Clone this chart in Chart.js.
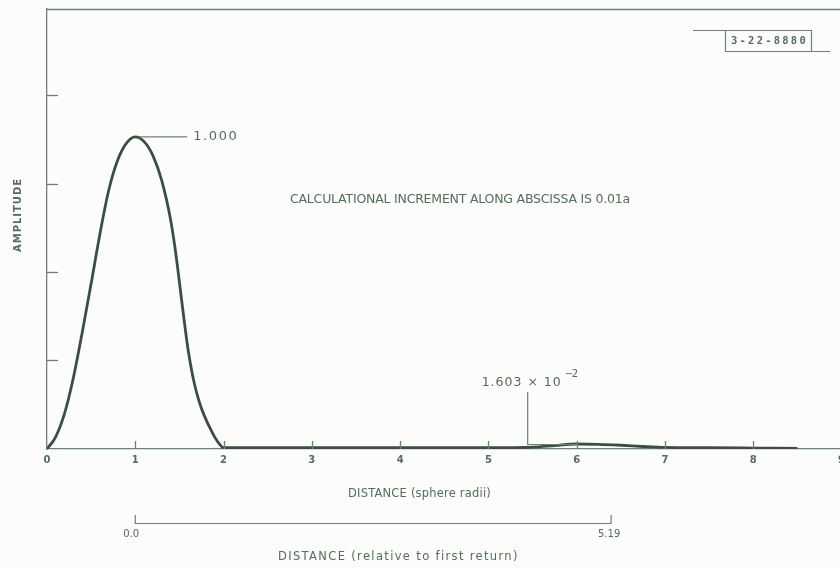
<!DOCTYPE html>
<html><head><meta charset="utf-8">
<script src="https://cdn.jsdelivr.net/npm/chart.js@4/dist/chart.umd.min.js"></script>
<style>
html,body{margin:0;padding:0;background:#fcfdfb;overflow:hidden;}
#wrap{position:relative;width:850px;height:568px;overflow:hidden;}
canvas{display:block;}
</style></head><body>
<div id="wrap"><canvas id="c" width="850" height="568"></canvas></div>
<script>
// ---- data ----
const distance = [0,0.1,0.2,0.3,0.4,0.5,0.6,0.7,0.8,0.9,1.0,1.1,1.2,1.3,1.4,1.45,1.5,1.55,1.6,1.65,1.7,1.75,1.8,1.85,1.9,1.95,2.0,
                  2.5,3.0,3.5,4.0,4.5,5.0,5.5,5.75,6.0,6.25,6.5,6.75,7.0,7.5,8.0,8.5];
const amplitude = [0,0.04,0.115,0.23,0.375,0.53,0.69,0.83,0.925,0.98,1.0,0.985,0.94,0.86,0.735,0.645,0.535,0.42,0.315,0.235,0.175,0.13,0.095,0.065,0.038,0.017,0.004,
                   0.004,0.004,0.004,0.004,0.004,0.004,0.006,0.011,0.016,0.015,0.012,0.008,0.005,0.004,0.003,0.002];
const xTickValues = [0,1,2,3,4,5,6,7,8,9];
const yTickMarks = [0.285,0.567,0.849,1.135];
const firstPeak = {x:1.0, y:1.0, label:'1.000'};
const secondPeak = {x:6.0, y:0.016, label:'1.603 × 10', exponent:'−2'};
const relativeAxisAt = [1.0, 6.39];
const relativeAxisLabels = ['0.0','5.19'];
const figureId = '3-22-8880';
const noteText = 'CALCULATIONAL INCREMENT ALONG ABSCISSA IS 0.01a';
const xTitle = 'DISTANCE (sphere radii)';
const xTitle2 = 'DISTANCE (relative to first return)';
const yTitle = 'AMPLITUDE';

const AX = '#6d8076', TXT = '#566b5f', CURVE = '#3c4e44';
const FAM = '"DejaVu Sans", sans-serif';

function fitText(ctx, text, left, cy, width){
  ctx.letterSpacing = '0px';
  const m = ctx.measureText(text).width;
  const ls = (width - m) / text.length;
  ctx.letterSpacing = ls.toFixed(2) + 'px';
  ctx.textAlign = 'left'; ctx.textBaseline = 'middle';
  ctx.fillText(text, left, cy);
  ctx.letterSpacing = '0px';
}
function line(ctx, pts, w, col){
  ctx.beginPath(); ctx.moveTo(pts[0][0], pts[0][1]);
  for (let i=1;i<pts.length;i++) ctx.lineTo(pts[i][0], pts[i][1]);
  ctx.lineWidth = w; ctx.strokeStyle = col; ctx.stroke();
}

const deco = {
  id:'deco',
  beforeDraw(chart){
    const ctx = chart.ctx; ctx.save();
    ctx.fillStyle = '#fcfdfb'; ctx.fillRect(0,0,chart.width,chart.height);
    ctx.restore();
  },
  afterDraw(chart){
    const ctx = chart.ctx, ca = chart.chartArea, xs = chart.scales.x, ys = chart.scales.y;
    ctx.save();
    line(ctx, [[ca.left, ca.top+0.5],[ca.right, ca.top+0.5]], 1.3, AX);
    ys.ticks.forEach(t => { const py = Math.round(ys.getPixelForValue(t.value))+0.5;
      line(ctx, [[ca.left, py],[ca.left+11, py]], 1.3, AX); });
    xs.ticks.forEach(t => { if (t.value <= 0 || t.value >= 9) return;
      const px = Math.round(xs.getPixelForValue(t.value))+0.5;
      line(ctx, [[px, ca.bottom],[px, ca.bottom-8]], 1.3, AX); });
    // first peak label
    const p1x = xs.getPixelForValue(firstPeak.x), p1y = ys.getPixelForValue(firstPeak.y);
    line(ctx, [[p1x+4, p1y],[p1x+52, p1y]], 1.2, AX);
    ctx.fillStyle = TXT; ctx.font = '13px ' + FAM;
    fitText(ctx, firstPeak.label, p1x+58, p1y, 45);
    // second peak label
    const p2x = xs.getPixelForValue(secondPeak.x), p2y = ys.getPixelForValue(secondPeak.y);
    const lx = p2x - 49;
    line(ctx, [[lx, p2y-52],[lx, p2y+0.5],[p2x, p2y+0.5]], 1.2, AX);
    ctx.font = '12.5px ' + FAM;
    fitText(ctx, secondPeak.label, lx-46, p2y-61, 80);
    ctx.font = '10px ' + FAM;
    fitText(ctx, secondPeak.exponent, lx+37, p2y-70, 12);
    // note
    ctx.font = '12.5px ' + FAM;
    fitText(ctx, noteText, 290, 200, 340);
    // figure id box
    line(ctx, [[693, 30.5],[812, 30.5]], 1.2, AX);
    line(ctx, [[725.5, 30.5],[725.5, 52]], 1.2, AX);
    line(ctx, [[811.5, 30.5],[811.5, 51.5],[830, 51.5]], 1.2, AX);
    line(ctx, [[725.5, 51.5],[811.5, 51.5]], 1.2, AX);
    ctx.font = 'bold 10.5px "DejaVu Sans Mono", monospace';
    fitText(ctx, figureId, 731, 41.5, 77);
    // y title
    ctx.save(); ctx.translate(18, 215); ctx.rotate(-Math.PI/2);
    ctx.font = 'bold 10px ' + FAM; ctx.fillStyle = TXT;
    fitText(ctx, yTitle, -37, 0, 74);
    ctx.restore();
    // x title
    ctx.font = '11.5px ' + FAM; ctx.fillStyle = TXT;
    fitText(ctx, xTitle, 348, 494, 143);
    // secondary distance axis
    const r0 = xs.getPixelForValue(relativeAxisAt[0]), r1 = xs.getPixelForValue(relativeAxisAt[1]);
    line(ctx, [[r0, 515],[r0, 523.5],[r1, 523.5],[r1, 515]], 1.2, AX);
    ctx.font = '10px ' + FAM;
    ctx.textAlign = 'center'; ctx.textBaseline = 'middle';
    ctx.fillText(relativeAxisLabels[0], r0-4, 534);
    ctx.fillText(relativeAxisLabels[1], r1-2, 534);
    ctx.font = '11.5px ' + FAM;
    fitText(ctx, xTitle2, 278, 557, 241);
    ctx.restore();
  }
};

new Chart(document.getElementById('c'), {
  type:'line',
  data:{ datasets:[{
    data: distance.map((d,i)=>({x:d, y:amplitude[i]})),
    borderColor: CURVE, borderWidth: 2.8, pointRadius: 0,
    cubicInterpolationMode: 'monotone', fill:false
  }]},
  options:{
    responsive:false, animation:false, devicePixelRatio:1,
    layout:{padding:{left:0, top:9, right:6, bottom:0}},
    plugins:{legend:{display:false}, tooltip:{enabled:false}},
    scales:{
      x:{ type:'linear', min:0, max:9,
        afterBuildTicks: s => { s.ticks = xTickValues.map(v=>({value:v})); },
        afterFit: s => { s.height = 119; },
        grid:{display:false, drawTicks:false},
        border:{display:true, color:AX, width:1.3},
        ticks:{color:TXT, font:{family:FAM, size:10, weight:'bold'}, padding:5,
               autoSkip:false, maxRotation:0, callback:v=>String(v)} },
      y:{ type:'linear', min:0, max:1.41,
        afterBuildTicks: s => { s.ticks = yTickMarks.map(v=>({value:v})); },
        afterFit: s => { s.width = 47; },
        grid:{display:false, drawTicks:false},
        border:{display:true, color:AX, width:1.3},
        ticks:{display:false} }
    }
  },
  plugins:[deco]
});
</script>
</body></html>
